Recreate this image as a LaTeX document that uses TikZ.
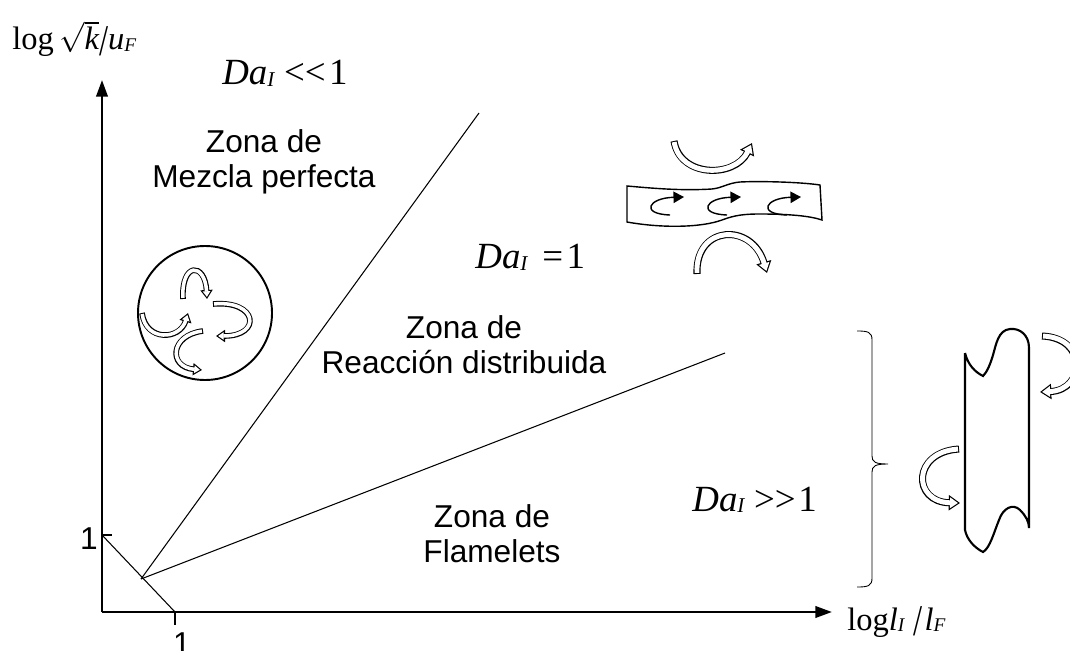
\documentclass[tikz,border=0pt]{standalone}
\usepackage{fontspec}
\setmainfont{Liberation Serif}
\newfontfamily\arial{Liberation Sans}
\usepackage{graphicx}
\usetikzlibrary{arrows.meta}

\newcommand{\Da}{\textit{Da}\raisebox{-1pt}{\fontsize{12}{12}\selectfont\textit{I}}}
\newcommand{\lowidx}[1]{\raisebox{-1pt}{\fontsize{11}{11}\selectfont\textit{#1}}}
\newcommand{\tallslash}{\raisebox{-3pt}{\scalebox{1}[1.35]{/}}}
\newcommand{\swirlarrow}[3]{\draw[swirl=#1] #3; \draw[swirl core=#2] #3;}

\tikzset{
  axis/.style={line width=1.5pt, -{Triangle[length=9.5pt,width=6.5pt]}},
  bound/.style={line width=0.6pt},
  zone/.style={font=\arial\fontsize{18}{20}\selectfont, align=center, inner sep=0pt, anchor=north},
  dalbl/.style={font=\fontsize{21}{24}\selectfont, inner sep=0pt, anchor=base west},
  axlbl/.style={font=\fontsize{18.5}{20}\selectfont, inner sep=0pt, anchor=base west},
  onelbl/.style={font=\arial\fontsize{18}{20}\selectfont, inner sep=0pt, anchor=base},
  swirl/.style={line width=#1, -{Triangle[length=0pt 1.6,width=0pt 2.1]}},
  swirl core/.style={white, line width=#1, shorten <=0.6pt, shorten >=1.2pt,
                     -{Triangle[length=0pt 1.6,width=0pt 2.1]}},
}

\begin{document}
\begin{tikzpicture}[x=0.02cm,y=-0.02cm]
\useasboundingbox (0,0) rectangle (1070,651);

% axes and zone boundaries
\coordinate (o) at (102,612);
\coordinate (ytip) at (102,80);
\coordinate (xtip) at (832,612);
\coordinate (y1) at (102,535);
\coordinate (x1) at (175,612);
\coordinate (apex) at (141,579);
\coordinate (mixend) at (479,113);
\coordinate (flmend) at (725,353);

\draw[axis] (o) -- (ytip);
\draw[axis] (o) -- (xtip);
\draw[bound] (y1) -- +(10,0);
\draw[bound] (x1) -- +(0,13);
\draw[bound] (y1) -- (x1);
\draw[bound] (apex) -- (mixend);
\draw[bound] (apex) -- (flmend);

% perfectly stirred: circle with eddies
\node[circle, draw, line width=1.1pt, minimum size=134*0.02cm, inner sep=0pt] (mixcirc) at (205,313) {};
\swirlarrow{3.2pt}{2pt}{(183,299) .. controls (181,262) and (205,262) .. (207,299)}
\swirlarrow{3.2pt}{2pt}{(213,304) .. controls (258,300) and (262,336) .. (216,336)}
\swirlarrow{3.2pt}{2pt}{(142,313) .. controls (146,342) and (180,340) .. (188,313)}
\swirlarrow{3.2pt}{2pt}{(203,331) .. controls (170,335) and (168,367) .. (202,370)}

% distributed reaction: wrinkled sheet
\draw[line width=0.8pt] (627,186) -- (627,222)
  .. controls (660,228) and (700,228) .. (722,220)
  .. controls (735,215) and (745,214) .. (760,214)
  .. controls (790,214) and (810,216) .. (822,220)
  -- (820,185)
  .. controls (800,182) and (760,181) .. (740,182)
  .. controls (728,183) and (722,188) .. (712,189)
  .. controls (680,191) and (650,188) .. cycle;
\foreach \cx in {670,727,787}
  \draw[line width=0.8pt, -{Triangle[length=6pt,width=6.5pt]}]
    (\cx,215) .. controls ({\cx-30},214) and ({\cx-22},198) .. ({\cx+14},197);
\swirlarrow{4pt}{2.8pt}{(674,141) .. controls (680,178) and (735,178) .. (752,143)}
\swirlarrow{4pt}{2.8pt}{(697,274) .. controls (695,225) and (752,222) .. (767,273)}

% flamelets: bracket and flame front
\draw[line width=0.5pt] (857,331) .. controls (868,331) and (872,332) .. (872,340) -- (872,456)
  .. controls (872,462) and (875,464) .. (888,464)
  .. controls (875,464) and (872,466) .. (872,472) -- (872,578)
  .. controls (872,586) and (868,587) .. (857,587);
\draw[line width=1.2pt] (965,353) -- (965,530)
  .. controls (967,540) and (975,548) .. (983,552)
  .. controls (990,548) and (994,532) .. (999,520)
  .. controls (1003,508) and (1013,503) .. (1020,510)
  .. controls (1026,516) and (1029,522) .. (1029,528)
  -- (1029,348)
  .. controls (1029,335) and (1020,328) .. (1010,329)
  .. controls (998,330) and (996,345) .. (993,355)
  .. controls (990,365) and (987,372) .. (983,376)
  .. controls (975,372) and (968,365) .. (965,353);
\swirlarrow{4pt}{2.8pt}{(1042,336) .. controls (1088,338) and (1085,390) .. (1040,392)}
\swirlarrow{4pt}{2.8pt}{(959,449) .. controls (912,452) and (912,502) .. (960,503)}

% labels
\node[axlbl] (ylbl) at (12,50) {log\,$\sqrt{\textit{k}}$\tallslash\textit{u}\lowidx{F}};
\node[axlbl] (xlbl) at (847,630) {log\textit{l}\lowidx{I}\hspace{5pt}\tallslash\hspace{1pt}\textit{l}\lowidx{F}};
\node[onelbl] (yone) at (89,549) {1};
\node[onelbl] (xone) at (182,654) {1};
\node[dalbl] (dalow) at (222,85) {\Da\hspace{5pt}<{}<\hspace{2pt}1};
\node[dalbl] (daeq) at (475,269) {\Da\hspace{8pt}=\hspace{2pt}1};
\node[dalbl] (dahigh) at (692,511) {\Da\hspace{5pt}>{}>\hspace{1.5pt}1};
\node[zone] (mix) at (264,129) {Zona de\\Mezcla perfecta};
\node[zone] (dist) at (464,315) {Zona de\\Reacción distribuida};
\node[zone] (flm) at (492,504) {Zona de\\Flamelets};
\end{tikzpicture}
\end{document}
